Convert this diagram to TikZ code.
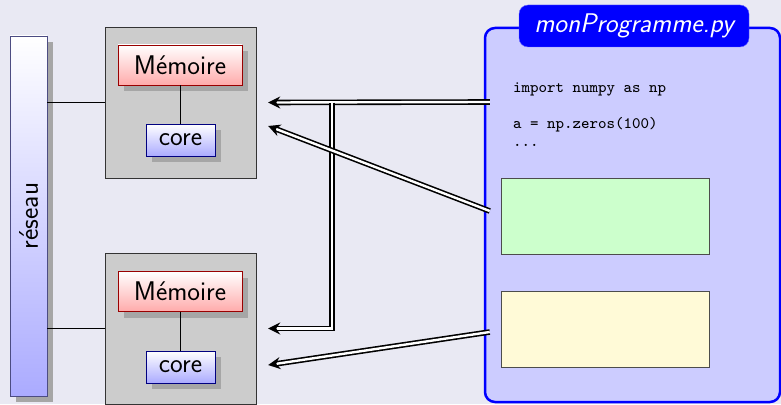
\documentclass[tikz,border=0pt]{standalone}
\usepackage{fontspec}
\newfontfamily\codefont{lmmono8-regular.otf}
\usetikzlibrary{shadows,arrows.meta}
\definecolor{bg}{RGB}{233,233,243}
\definecolor{lemon}{RGB}{255,250,215}
\tikzset{
  lbl/.style={font=\sffamily\fontsize{27}{30}\selectfont, text=black},
  shad/.style={drop shadow={shadow xshift=6pt,shadow yshift=-6pt,fill=black!35,opacity=1}},
  membox/.style={draw=red!60!black, top color=white, bottom color=red!33, minimum width=124pt, minimum height=40pt, inner sep=0pt, lbl, shad},
  corebox/.style={draw=blue!50!black, top color=white, bottom color=blue!33, minimum width=69pt, minimum height=32pt, inner sep=0pt, lbl, shad},
  nodebox/.style={draw=black!80, fill=black!20, minimum width=151pt, minimum height=151pt, inner sep=0pt},
  link/.style={draw=black, line width=0.8pt},
  dbl/.style={draw=black, double=white, line width=1.6pt, double distance=2.4pt, -{Stealth[length=12pt,width=12pt,inset=4pt]}},
  code/.style={font=\codefont\fontsize{16}{19}\selectfont, anchor=base west, inner sep=0pt},
  databox/.style={draw=black!70, line width=0.8pt, minimum width=208pt, minimum height=76pt, inner sep=0pt}
}
\begin{document}
\begin{tikzpicture}[x=1pt,y=-1pt]
\fill[bg] (0,0) rectangle (781,404);
\useasboundingbox (0,0) rectangle (781,404);
% network bar
\node[draw=blue!30!black!70, top color=white, bottom color=blue!33, minimum width=37pt, minimum height=360pt, inner sep=0pt, shad] (reseau) at (28.5,216) {};
\node[lbl, rotate=90] (reseaulbl) at (reseau.center) {réseau};
% node 1
\node[nodebox] (box1) at (180.5,102.5) {};
\node[membox] (mem1) at (180,65) {Mémoire};
\node[corebox] (core1) at (180.5,140) {core};
\draw[link] (mem1.south) -- (mem1.south |- core1.north);
% node 2
\node[nodebox] (box2) at (180.5,328.5) {};
\node[membox] (mem2) at (180,291.5) {Mémoire};
\node[corebox] (core2) at (180.5,367) {core};
\draw[link] (mem2.south) -- (mem2.south |- core2.north);
% links to network
\draw[link] (reseau.east |- box1.west) -- (box1.west);
\draw[link] (reseau.east |- box2.west) -- (box2.west);
% program panel
\node[draw=blue, line width=2.5pt, fill=blue!20, rounded corners=10pt, minimum width=295pt, minimum height=374pt, inner sep=0pt] (panel) at (632.5,215) {};
\node[fill=blue, draw=blue!60, rounded corners=9pt, minimum width=230pt, minimum height=42pt, inner sep=0pt, font=\sffamily\itshape\fontsize{27}{30}\selectfont, text=white] (title) at (634,26) {monProgramme.py};
\node[code] (c1) at (513,92.5) {import numpy as np};
\node[code] (c2) at (513,128) {a = np.zeros(100)};
\node[code] (c3) at (513,146) {...};
\node[databox, fill=green!20] (green) at (605,216) {};
\node[databox, fill=lemon] (yellow) at (605,329) {};
% arrows
\coordinate (s1) at ([shift={(6,-113)}]panel.west);
\coordinate (s2) at ([shift={(6,-4)}]panel.west);
\coordinate (s3) at ([shift={(6,117)}]panel.west);
\coordinate (t1) at ([xshift=12pt]box1.east);
\coordinate (t2) at ([shift={(12,23.5)}]box1.east);
\coordinate (t3) at ([xshift=12pt]box2.east);
\coordinate (t4) at ([shift={(12,36.5)}]box2.east);
\coordinate (j) at (332,102.5);
\draw[dbl] (s1) -- (t1);
\draw[dbl] (j) |- (t3);
\draw[dbl] (s2) -- (t2);
\draw[dbl] (s3) -- (t4);
\end{tikzpicture}
\end{document}
